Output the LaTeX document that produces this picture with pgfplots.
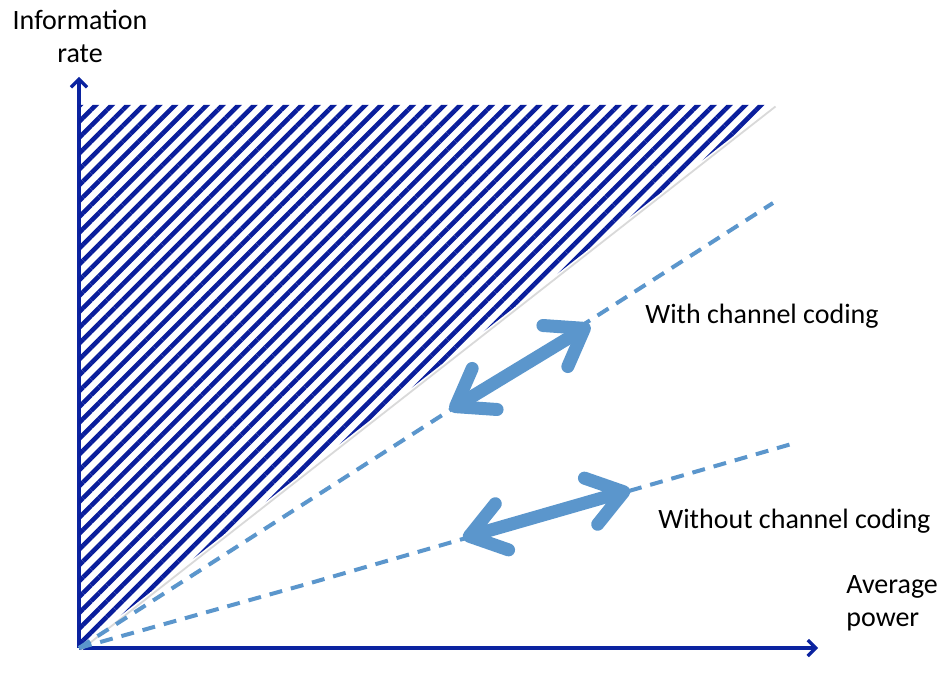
\documentclass[border=0pt]{standalone}
\usepackage{fontspec}
\setmainfont{Carlito}
\usepackage{pgfplots}
\pgfplotsset{compat=1.18}
\usetikzlibrary{arrows.meta,patterns.meta}
\definecolor{axisblue}{HTML}{0B23A0}
\definecolor{hatchblue}{HTML}{0A1E9C}
\definecolor{lightblue}{HTML}{5B96CC}
\begin{document}
\begin{tikzpicture}
\useasboundingbox (0,0) rectangle (471pt,346pt);
\begin{axis}[
  at={(39.5pt,22pt)}, anchor=origin,
  scale only axis, width=369.5pt, height=285.5pt,
  xmin=0, xmax=739, ymin=0, ymax=571,
  enlargelimits=false, clip=false,
  axis lines=left, xtick=\empty, ytick=\empty,
  axis line style={draw=axisblue, line width=1.6pt, -{Straight Barb[length=4pt,width=8pt]}},
  font=\fontsize{14}{16.5}\selectfont,
]
% shadow of hatched area edge
\addplot[gray!30, line width=0.9pt, forget plot] coordinates {(2.5,-1.5) (696.5,541.5)};
% hatched region
\addplot[draw=none, pattern={Lines[angle=45, distance=5.6pt, line width=2.3pt]}, pattern color=hatchblue]
  coordinates {(0,0) (694,543) (0,543) (0,0)};
% dashed lines
\addplot[lightblue, line width=2pt, dash pattern=on 6.5pt off 4.5pt] coordinates {(0,0) (694,445)};
\addplot[lightblue, line width=2pt, dash pattern=on 6.5pt off 4.5pt] coordinates {(0,0) (228,64) (716,205)};
% double arrows
\addplot[lightblue, line width=6.5pt, {Straight Barb[round,length=17pt,width=24pt]}-{Straight Barb[round,length=17pt,width=24pt]}] coordinates {(371,238) (511,323)};
\addplot[lightblue, line width=6.5pt, {Straight Barb[round,length=17pt,width=24pt]}-{Straight Barb[round,length=17pt,width=24pt]}] coordinates {(384,110) (551,158)};
% labels
\node[anchor=west, inner sep=0pt] at (axis cs:566,332) {With channel coding};
\node[anchor=west, inner sep=0pt] at (axis cs:579,127) {Without channel coding};
\node[align=center, inner sep=0pt] at (axis cs:1,612) {Information\\rate};
\node[align=left, anchor=west, inner sep=0pt] at (axis cs:767,45) {Average\\power};
\end{axis}
\end{tikzpicture}
\end{document}
